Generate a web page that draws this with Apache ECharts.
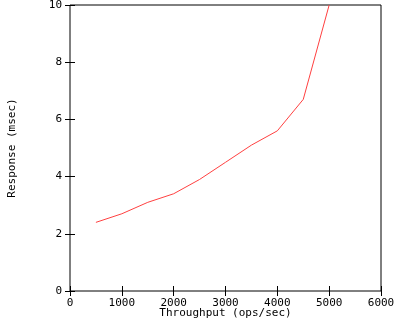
<!DOCTYPE html>
<html>
<head>
<meta charset="utf-8">
<script src="https://cdn.jsdelivr.net/npm/echarts@6/dist/echarts.min.js"></script>
<style>
  html, body { margin: 0; padding: 0; background: #fff; }
  #chart { width: 400px; height: 320px; }
</style>
</head>
<body>
<div id="chart"></div>
<script>
// throughput (ops/sec) vs response (msec)
var throughput = [500, 1000, 1500, 2000, 2500, 3000, 3500, 4000, 4500, 5000];
var response = [2.4, 2.7, 3.1, 3.4, 3.9, 4.5, 5.1, 5.6, 6.7, 10];

var points = throughput.map(function (x, i) { return [x, response[i]]; });

var myChart = echarts.init(document.getElementById('chart'));

var font = 'DejaVu Sans Mono';
var tickStyle = { show: true, inside: true, length: 5, lineStyle: { color: '#000', width: 1 } };
var plain = function (v) { return String(v); };

var option = {
    animation: false,
    backgroundColor: '#fff',
    grid: {
        left: 70, right: 19, top: 5, bottom: 29,
        outerBoundsMode: 'none', containLabel: false,
        show: true, borderColor: '#000', borderWidth: 1
    },
    xAxis: [{
        type: 'value', min: 0, max: 6000, interval: 1000,
        name: 'Throughput (ops/sec)', nameLocation: 'middle', nameGap: 17,
        nameMoveOverlap: false,
        nameTextStyle: { fontFamily: font, fontSize: 11, color: '#000' },
        axisLine: { show: false },
        axisTick: tickStyle,
        splitLine: { show: false },
        axisLabel: { fontFamily: font, fontSize: 11, color: '#000', margin: 7, formatter: plain }
    }, {
        type: 'value', min: 0, max: 6000, interval: 1000, position: 'top',
        axisLine: { show: false }, axisTick: tickStyle,
        splitLine: { show: false }, axisLabel: { show: false }
    }],
    yAxis: [{
        type: 'value', min: 0, max: 10, interval: 2,
        name: 'Response (msec)', nameLocation: 'middle', nameGap: 52,
        nameTextStyle: { fontFamily: font, fontSize: 11, color: '#000' },
        axisLine: { show: false },
        axisTick: tickStyle,
        splitLine: { show: false },
        axisLabel: { fontFamily: font, fontSize: 11, color: '#000', margin: 8, formatter: plain }
    }, {
        type: 'value', min: 0, max: 10, interval: 2, position: 'right',
        axisLine: { show: false }, axisTick: tickStyle,
        splitLine: { show: false }, axisLabel: { show: false }
    }],
    series: [{
        type: 'line',
        data: points,
        showSymbol: false,
        symbol: 'none',
        lineStyle: { color: '#ff4040', width: 1 },
        clip: true
    }]
};

myChart.setOption(option);
</script>
</body>
</html>
